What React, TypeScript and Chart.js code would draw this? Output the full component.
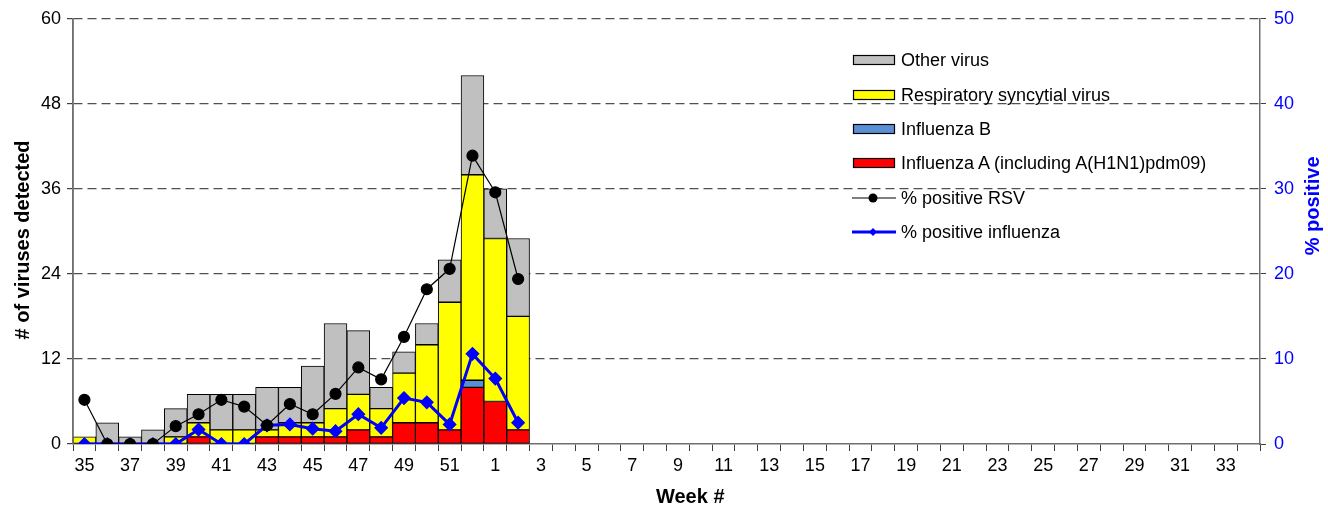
import React, { useEffect, useRef } from 'react';
import { Chart, registerables } from 'chart.js';

Chart.register(...registerables);

const weeks: string[] = [
  '35', '36', '37', '38', '39', '40', '41', '42', '43', '44', '45', '46', '47', '48', '49', '50', '51', '52',
  '1', '2', '3', '4', '5', '6', '7', '8', '9', '10', '11', '12', '13', '14', '15', '16', '17', '18', '19', '20',
  '21', '22', '23', '24', '25', '26', '27', '28', '29', '30', '31', '32', '33', '34',
];

// counts per week (weeks 35..2 observed; later weeks have no data)
const influenzaA: number[] = [0, 0, 0, 0, 0, 1, 0, 0, 1, 1, 1, 1, 2, 1, 3, 3, 2, 8, 6, 2];
const influenzaB: number[] = [0, 0, 0, 0, 0, 0, 0, 0, 0, 0, 0, 0, 0, 0, 0, 0, 0, 1, 0, 0];
const rsv: number[] = [1, 0, 0, 0, 1, 2, 2, 2, 1, 2, 2, 4, 5, 4, 7, 11, 18, 29, 23, 16];
const otherVirus: number[] = [0, 3, 1, 2, 4, 4, 5, 5, 6, 5, 8, 12, 9, 3, 3, 3, 6, 14, 7, 11];

// percent positive
const pctRsv: number[] = [5.2, 0, 0, 0, 2.1, 3.5, 5.2, 4.4, 2.2, 4.7, 3.5, 5.9, 9.0, 7.6, 12.6, 18.2, 20.6, 33.9, 29.6, 19.4];
const pctInfluenza: number[] = [0, 0, 0, 0, 0, 1.7, 0, 0, 2.2, 2.3, 1.8, 1.5, 3.5, 1.9, 5.4, 4.9, 2.3, 10.6, 7.7, 2.5];

const leftTicks: number[] = [0, 12, 24, 36, 48, 60];
const rightTicks: number[] = [0, 10, 20, 30, 40, 50];

const FONT = "'Liberation Sans', Arial, Helvetica, sans-serif";

const barData = (arr: number[]) => weeks.map((_, i) => (i < arr.length && arr[i] !== 0 ? arr[i] : null));
const lineData = (arr: number[]) => weeks.map((_, i) => (i < arr.length ? arr[i] : null));

const titlePlugin = {
  id: 'axisTitles',
  afterDraw(chart: any) {
    const ctx = chart.ctx as CanvasRenderingContext2D;
    const area = chart.chartArea;
    ctx.save();
    ctx.setLineDash([]);
    // solid left axis line over the dashed grid
    ctx.strokeStyle = '#707070';
    ctx.lineWidth = 1.5;
    ctx.beginPath();
    ctx.moveTo(area.left, area.top);
    ctx.lineTo(area.left, area.bottom);
    ctx.stroke();
    ctx.font = `bold 20px ${FONT}`;
    ctx.textAlign = 'center';
    ctx.textBaseline = 'middle';
    ctx.fillStyle = '#000000';
    ctx.fillText('Week #', area.left + (area.right - area.left) * 0.52, 497);
    ctx.save();
    ctx.translate(23, area.top + (area.bottom - area.top) * 0.52);
    ctx.rotate(-Math.PI / 2);
    ctx.fillText('# of viruses detected', 0, 0);
    ctx.restore();
    ctx.save();
    ctx.fillStyle = '#0000FF';
    ctx.translate(1313, area.top + (area.bottom - area.top) * 0.44);
    ctx.rotate(-Math.PI / 2);
    ctx.fillText('% positive', 0, 0);
    ctx.restore();
    ctx.restore();
  },
};

const legendItems = [
  { label: 'Other virus', kind: 'box', color: '#C0C0C0' },
  { label: 'Respiratory syncytial virus', kind: 'box', color: '#FFFF00' },
  { label: 'Influenza B', kind: 'box', color: '#5B8FD5' },
  { label: 'Influenza A (including A(H1N1)pdm09)', kind: 'box', color: '#FF0000' },
  { label: '% positive RSV', kind: 'dot', color: '#000000' },
  { label: '% positive influenza', kind: 'diamond', color: '#0000FF' },
];

function Legend() {
  return (
    <div style={{ position: 'absolute', left: 852, top: 43, fontFamily: FONT, fontSize: 18, color: '#000' }}>
      {legendItems.map((it, i) => (
        <div key={i} style={{ display: 'flex', alignItems: 'center', height: 34.4 }}>
          <svg width={44} height={14} style={{ display: 'block', marginRight: 5 }}>
            {it.kind === 'box' && (
              <rect x={1.5} y={2.5} width={41} height={9} fill={it.color} stroke="#000" strokeWidth={1.2} />
            )}
            {it.kind === 'dot' && (
              <g>
                <line x1={0} y1={7} x2={44} y2={7} stroke="#000" strokeWidth={1.2} />
                <circle cx={21} cy={7} r={4.5} fill="#000" />
              </g>
            )}
            {it.kind === 'diamond' && (
              <g>
                <line x1={0} y1={7} x2={44} y2={7} stroke="#0000FF" strokeWidth={3} />
                <polygon points="21,3 25,7 21,11 17,7" fill="#0000FF" />
              </g>
            )}
          </svg>
          <span style={{ whiteSpace: 'nowrap', lineHeight: '20px' }}>{it.label}</span>
        </div>
      ))}
    </div>
  );
}

export default function App() {
  const canvasRef = useRef<HTMLCanvasElement | null>(null);

  useEffect(() => {
    document.body.style.margin = '0';
    const canvas = canvasRef.current;
    if (!canvas) return;
    Chart.defaults.font.family = FONT;
    Chart.defaults.font.size = 18;
    Chart.defaults.color = '#000000';

    const chart = new Chart(canvas, {
      type: 'bar',
      data: {
        labels: weeks,
        datasets: [
          {
            type: 'line',
            label: '% positive RSV',
            data: lineData(pctRsv),
            yAxisID: 'y1',
            borderColor: '#000000',
            backgroundColor: '#000000',
            borderWidth: 1.2,
            pointRadius: 5.5,
            pointBackgroundColor: '#000000',
            pointBorderColor: '#000000',
            pointStyle: 'circle',
            tension: 0,
            order: 0,
          } as any,
          {
            type: 'line',
            label: '% positive influenza',
            data: lineData(pctInfluenza),
            yAxisID: 'y1',
            borderColor: '#0000FF',
            backgroundColor: '#0000FF',
            borderWidth: 3,
            pointRadius: 5,
            pointStyle: 'rectRot',
            pointBackgroundColor: '#0000FF',
            pointBorderColor: '#0000FF',
            tension: 0,
            order: 1,
          } as any,
          {
            label: 'Influenza A (including A(H1N1)pdm09)',
            data: barData(influenzaA),
            backgroundColor: '#FF0000',
            borderColor: '#000000',
            borderWidth: 1,
            borderSkipped: false,
            stack: 's',
            yAxisID: 'y',
            order: 2,
          },
          {
            label: 'Influenza B',
            data: barData(influenzaB),
            backgroundColor: '#5B8FD5',
            borderColor: '#000000',
            borderWidth: 1,
            borderSkipped: false,
            stack: 's',
            yAxisID: 'y',
            order: 3,
          },
          {
            label: 'Respiratory syncytial virus',
            data: barData(rsv),
            backgroundColor: '#FFFF00',
            borderColor: '#000000',
            borderWidth: 1,
            borderSkipped: false,
            stack: 's',
            yAxisID: 'y',
            order: 4,
          },
          {
            label: 'Other virus',
            data: barData(otherVirus),
            backgroundColor: '#C0C0C0',
            borderColor: '#000000',
            borderWidth: 1,
            borderSkipped: false,
            stack: 's',
            yAxisID: 'y',
            order: 5,
          },
        ],
      },
      options: {
        responsive: false,
        animation: false,
        layout: { padding: { top: 18, left: 0, right: 0, bottom: 0 } },
        plugins: { legend: { display: false }, tooltip: { enabled: false } },
        datasets: { bar: { categoryPercentage: 1, barPercentage: 1 } },
        scales: {
          x: {
            stacked: true,
            offset: true,
            grid: {
              offset: true,
              drawOnChartArea: false,
              drawTicks: true,
              tickLength: 7,
              color: '#404040',
              tickColor: '#404040',
            },
            border: { display: true, color: '#707070', width: 1.5 },
            ticks: {
              autoSkip: false,
              maxRotation: 0,
              minRotation: 0,
              padding: 4,
              color: '#000000',
              font: { size: 18 },
              callback: (_v: any, i: number) => (i % 2 === 0 ? weeks[i] : ''),
            },
            afterFit: (s: any) => {
              s.height = 64;
            },
          },
          y: {
            stacked: true,
            position: 'left',
            min: leftTicks[0],
            max: leftTicks[leftTicks.length - 1],
            afterBuildTicks: (s: any) => {
              s.ticks = leftTicks.map((v) => ({ value: v }));
            },
            grid: {
              color: (c: any) => (c.tick && c.tick.value === 0 ? 'rgba(0,0,0,0)' : '#505050'),
              tickColor: '#404040',
              tickBorderDash: [],
              lineWidth: 1.2,
              tickLength: 6,
            } as any,
            border: { display: true, color: '#707070', width: 1.5, dash: [9, 5] } as any,
            ticks: {
              color: '#000000',
              padding: 6,
              font: { size: 18 },
            },
            afterFit: (s: any) => {
              s.width = 73;
            },
          },
          y1: {
            position: 'right',
            min: rightTicks[0],
            max: rightTicks[rightTicks.length - 1],
            afterBuildTicks: (s: any) => {
              s.ticks = rightTicks.map((v) => ({ value: v }));
            },
            grid: {
              drawOnChartArea: false,
              tickLength: 6,
              tickColor: '#404040',
            },
            border: { display: true, color: '#707070', width: 1.5 },
            ticks: {
              color: '#0000FF',
              padding: 8,
              font: { size: 18 },
            },
            afterFit: (s: any) => {
              s.width = 68;
            },
          },
        },
      },
      plugins: [titlePlugin],
    });

    return () => {
      chart.destroy();
    };
  }, []);

  return (
    <div style={{ position: 'relative', width: 1328, height: 508 }}>
      <canvas ref={canvasRef} width={1328} height={508} style={{ display: 'block', width: 1328, height: 508 }} />
      <Legend />
    </div>
  );
}
